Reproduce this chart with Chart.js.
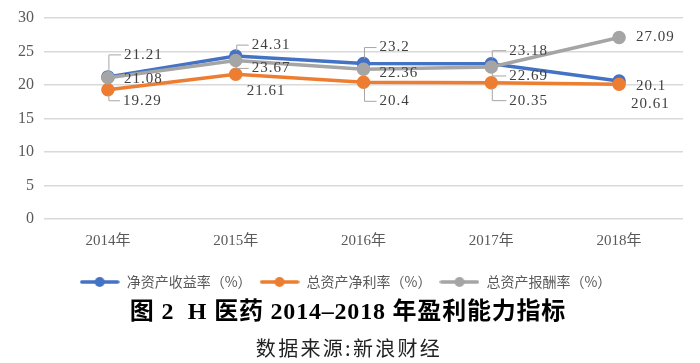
<!DOCTYPE html>
<html>
<head>
<meta charset="utf-8">
<script src="https://cdn.jsdelivr.net/npm/chart.js@4.4.0/dist/chart.umd.min.js"></script>
<style>
  html, body { margin: 0; padding: 0; background: #fff; }
  #wrap { width: 700px; height: 363px; }
</style>
</head>
<body>
<div id="wrap"><canvas id="profitChart" width="700" height="363"></canvas></div>
<script>
// years on the x axis
const years = ['2014年', '2015年', '2016年', '2017年', '2018年'];

// series values (%)
const roe = [21.21, 24.31, 23.2, 23.18, 20.61];      // 净资产收益率
const roa = [19.29, 21.61, 20.4, 20.35, 20.1];       // 总资产净利率
const returnOnAssets = [21.08, 23.67, 22.36, 22.69, 27.09]; // 总资产报酬率

const seriesNames = ['净资产收益率（%）', '总资产净利率（%）', '总资产报酬率（%）'];
const yTicks = [0, 5, 10, 15, 20, 25, 30];

const figureTitle = '图 2  H 医药 2014–2018 年盈利能力指标';
const sourceNote = '数据来源:新浪财经';

// where each data label sits relative to its point, in px [dx, dy]
const labelOffsets = [
    [[16, -22], [16, -11], [16, -16], [18, -13], [12, 23]],
    [[15, 11], [11, 17], [16, 19], [18, 18], [17, 2]],
    [[16, 1], [16, 8], [16, 4], [18, 9], [17, 0]]
];

const colors = ['#4472C4', '#ED7D31', '#A5A5A5'];
const labelFont = '15px "Liberation Serif", "Noto Sans CJK SC", serif';

// line + dot swatch for the legend, like Excel's
function makeSwatch(color) {
    const c = document.createElement('canvas');
    c.width = 40;
    c.height = 12;
    const g = c.getContext('2d');
    g.strokeStyle = color;
    g.lineWidth = 3.5;
    g.lineCap = 'round';
    g.beginPath();
    g.moveTo(2, 6);
    g.lineTo(38, 6);
    g.stroke();
    g.fillStyle = color;
    g.beginPath();
    g.arc(20, 6, 5, 0, Math.PI * 2);
    g.fill();
    return c;
}

const dataLabels = {
    id: 'dataLabels',
    afterDatasetsDraw(chart) {
        const ctx = chart.ctx;
        ctx.save();
        ctx.font = labelFont;
        ctx.letterSpacing = '1px';
        ctx.textBaseline = 'middle';
        ctx.textAlign = 'left';
        chart.data.datasets.forEach((ds, di) => {
            const meta = chart.getDatasetMeta(di);
            meta.data.forEach((pt, i) => {
                const [dx, dy] = labelOffsets[di][i];
                const lx = pt.x + dx;
                const ly = pt.y + dy;
                // leader line when the label is pulled away from the point
                if (Math.abs(dy) >= 8 && !(di === 1 && i === 1) && !(di === 0 && i === 4)) {
                    ctx.strokeStyle = '#a6a6a6';
                    ctx.lineWidth = 1;
                    ctx.beginPath();
                    const sx = pt.x + 1;
                    const sy = pt.y + (dy < 0 ? -5 : 5);
                    ctx.moveTo(sx, sy);
                    ctx.lineTo(sx, ly);
                    ctx.lineTo(lx - 3, ly);
                    ctx.stroke();
                }
                ctx.fillStyle = '#404040';
                ctx.fillText(String(ds.data[i]), lx, ly);
            });
        });
        ctx.restore();
    }
};

// figure caption and source under the legend
const caption = {
    id: 'caption',
    afterDraw(chart) {
        const ctx = chart.ctx;
        const cx = chart.width / 2;
        ctx.save();
        ctx.textAlign = 'center';
        ctx.textBaseline = 'middle';
        ctx.fillStyle = '#000';
        ctx.font = 'bold 24px "Liberation Serif", "Noto Sans CJK SC", serif';
        ctx.letterSpacing = '0.8px';
        ctx.fillText(figureTitle, cx - 2, 313);
        ctx.fillStyle = '#222';
        ctx.font = '20px "Noto Sans CJK SC", sans-serif';
        ctx.letterSpacing = '2.3px';
        ctx.fillText(sourceNote, cx - 1, 348);
        ctx.restore();
    }
};

const allSeries = [roe, roa, returnOnAssets];

new Chart(document.getElementById('profitChart'), {
    type: 'line',
    data: {
        labels: years,
        datasets: allSeries.map((vals, i) => ({
            label: seriesNames[i],
            data: vals,
            borderColor: colors[i],
            backgroundColor: colors[i],
            borderWidth: 3.5,
            pointRadius: 5,
            pointHoverRadius: 5,
            tension: 0,
            order: 3 - i
        }))
    },
    options: {
        responsive: false,
        animation: false,
        layout: { padding: { top: 7, right: 17, left: 8, bottom: 64 } },
        plugins: {
            tooltip: { enabled: false },
            title: { display: false },
            legend: {
                position: 'bottom',
                labels: {
                    usePointStyle: true,
                    pointStyleWidth: 40,
                    padding: 8,
                    color: '#595959',
                    font: { family: '"Noto Sans CJK SC", sans-serif', size: 14 },
                    sort: (a, b) => a.datasetIndex - b.datasetIndex,
                    generateLabels(chart) {
                        return chart.data.datasets.map((ds, i) => ({
                            text: ds.label,
                            pointStyle: makeSwatch(colors[i]),
                            fillStyle: colors[i],
                            strokeStyle: colors[i],
                            lineWidth: 0,
                            fontColor: '#595959',
                            datasetIndex: i,
                            hidden: false
                        }));
                    }
                }
            }
        },
        scales: {
            x: {
                offset: true,
                grid: { display: false },
                border: { display: false },
                afterFit(scale) { scale.height += 12; },
                ticks: {
                    color: '#595959',
                    padding: 5,
                    font: { family: '"Liberation Serif", "Noto Sans CJK SC", serif', size: 15 }
                }
            },
            y: {
                min: 0,
                max: 30,
                afterBuildTicks(axis) {
                    axis.ticks = yTicks.map(v => ({ value: v }));
                },
                grid: { color: '#d9d9d9', lineWidth: 1.5, drawTicks: false },
                border: { display: false },
                ticks: {
                    color: '#595959',
                    padding: 10,
                    font: { family: '"Liberation Serif", serif', size: 16, lineHeight: 1 }
                }
            }
        }
    },
    plugins: [dataLabels, caption]
});
</script>
</body>
</html>
